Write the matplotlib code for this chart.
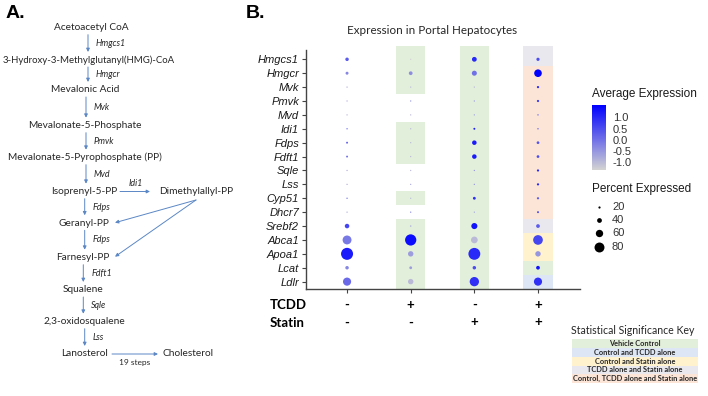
import numpy as np
import matplotlib.pyplot as plt
from matplotlib.colors import LinearSegmentedColormap, Normalize
from matplotlib.patches import Rectangle

# ---- data ----
genes = ['Hmgcs1', 'Hmgcr', 'Mvk', 'Pmvk', 'Mvd', 'Idi1', 'Fdps', 'Fdft1', 'Sqle',
         'Lss', 'Cyp51', 'Dhcr7', 'Srebf2', 'Abca1', 'Apoa1', 'Lcat', 'Ldlr']
tcdd = ['-', '+', '-', '+']
statin = ['-', '-', '+', '+']

# percent expressed; columns: vehicle, TCDD, statin, TCDD + statin
pct = np.array([
    [30, 8, 40, 28],
    [26, 32, 42, 62],
    [8, 6, 6, 20],
    [8, 10, 10, 20],
    [6, 5, 10, 12],
    [12, 6, 18, 10],
    [18, 6, 38, 24],
    [18, 8, 38, 24],
    [8, 6, 12, 20],
    [6, 8, 12, 20],
    [14, 6, 25, 20],
    [6, 12, 10, 18],
    [38, 15, 50, 32],
    [72, 90, 55, 78],
    [96, 45, 95, 45],
    [30, 25, 30, 32],
    [66, 45, 75, 66],
])

# scaled average expression
avg = np.array([
    [0.3, -1.3, 1.0, 0.5],
    [-0.3, -0.4, 0.0, 1.55],
    [-0.8, -1.0, -1.0, 1.0],
    [-0.8, -0.5, -0.6, 0.8],
    [-0.9, -1.0, -0.7, 0.3],
    [0.2, -1.0, 1.2, 0.5],
    [0.2, -1.0, 1.2, 0.4],
    [0.0, -1.0, 1.2, 0.5],
    [-0.8, -1.0, -0.5, 1.0],
    [-0.8, -0.8, -0.5, 1.0],
    [-0.2, -1.0, 0.9, 0.3],
    [-0.8, -0.3, -0.7, 0.6],
    [0.6, -0.9, 1.3, 0.3],
    [-0.1, 1.4, -1.0, 0.6],
    [1.2, -0.6, 1.0, -0.5],
    [-0.3, -0.6, 0.5, 1.3],
    [0.1, -1.0, 0.9, 0.9],
])

# significance category per cell (0 = none, 1..5 = key entries)
sig = np.array([
    [0, 1, 1, 4],
    [0, 1, 1, 5],
    [0, 1, 1, 5],
    [0, 0, 1, 5],
    [0, 0, 1, 5],
    [0, 1, 1, 5],
    [0, 1, 1, 5],
    [0, 1, 1, 5],
    [0, 0, 1, 5],
    [0, 0, 1, 5],
    [0, 1, 1, 5],
    [0, 0, 1, 5],
    [0, 1, 1, 4],
    [0, 1, 1, 3],
    [0, 1, 1, 3],
    [0, 1, 1, 1],
    [0, 1, 1, 2],
])

key_labels = ['Vehicle Control', 'Control and TCDD alone', 'Control and Statin alone',
              'TCDD alone and Statin alone', 'Control, TCDD alone and Statin alone']
key_colors = ['#E2EFDA', '#DCE6F4', '#FFF2CC', '#E9E8EE', '#FCE4D6']

size_breaks = [20, 40, 60, 80]

metabolites = ['Acetoacetyl CoA', '3-Hydroxy-3-Methylglutanyl(HMG)-CoA', 'Mevalonic Acid',
               'Mevalonate-5-Phosphate', 'Mevalonate-5-Pyrophosphate (PP)', 'Isoprenyl-5-PP',
               'Geranyl-PP', 'Farnesyl-PP', 'Squalene', '2,3-oxidosqualene', 'Lanosterol']
enzymes = ['Hmgcs1', 'Hmgcr', 'Mvk', 'Pmvk', 'Mvd', 'Fdps', 'Fdps', 'Fdft1', 'Sqle', 'Lss']

# ---- layout ----
W, H = 708, 396
met_x = [91, 88.5, 85, 85, 85, 84, 84, 83, 83, 84, 84]
met_y = [27.7, 60, 90, 125.7, 157.7, 191.7, 223.3, 257.7, 290, 321.7, 354]
arr_x = [88, 88, 86, 86, 86, 84.7, 84.7, 83.3, 83.3, 84.7]
calibri = ['Lato', 'DejaVu Sans']
arial = ['Liberation Sans', 'DejaVu Sans']
acol = '#5B87C5'
tcol = '#262626'


def dot_size(p):
    d_px = 12 * (np.asarray(p) - 3) / (96 - 3)
    return (np.clip(d_px, 1.3, None) * 0.72) ** 2


cmap = LinearSegmentedColormap.from_list('seurat', ['#D3D3D3', '#0000FF'])
norm = Normalize(vmin=-1.34, vmax=1.55)

fig = plt.figure(figsize=(7.08, 3.96), dpi=100)

# overlay in pixel coordinates for the annotations
ov = fig.add_axes([0, 0, 1, 1], zorder=-1)
ov.set_xlim(0, W)
ov.set_ylim(H, 0)
ov.axis('off')

def arrow(x1, y1, x2, y2):
    ov.annotate('', xy=(x2, y2), xytext=(x1, y1),
                arrowprops=dict(arrowstyle='-|>', color=acol, lw=0.7,
                                mutation_scale=5, shrinkA=0, shrinkB=0))

ov.text(6, 14, 'A.', fontsize=14, fontweight='bold', family=arial, va='center')
ov.text(246, 14, 'B.', fontsize=14, fontweight='bold', family=arial, va='center')

for name, x, y in zip(metabolites, met_x, met_y):
    fs = 6.9 if len(name) > 32 else 7.3
    ov.text(x, y, name, fontsize=fs, family=calibri, ha='center', va='center', color=tcol)
for i, enz in enumerate(enzymes):
    y1 = met_y[i] + 7
    y2 = met_y[i + 1] - 8
    arrow(arr_x[i], y1, arr_x[i], y2)
    ov.text(arr_x[i] + 8, (y1 + y2) / 2, enz, fontsize=6.4, style='italic',
            family=calibri, va='center', color=tcol)

ov.text(195.8, 191.7, 'Dimethylallyl-PP', fontsize=7.3, family=calibri, ha='center',
        va='center', color=tcol)
arrow(120, 191.5, 150, 191.5)
ov.text(136, 183, 'Idi1', fontsize=6.4, style='italic', family=calibri, ha='center',
        va='center', color=tcol)
arrow(196, 200, 115, 222.7)
arrow(196, 200, 115, 256.7)
ov.text(188, 354, 'Cholesterol', fontsize=7.3, family=calibri, ha='center', va='center',
        color=tcol)
arrow(112, 354, 158, 354)
ov.text(134.3, 363, '19 steps', fontsize=6, family=calibri, ha='center', va='center',
        color=tcol)

# ---- dot plot ----
ax = fig.add_axes([306 / W, 1 - 289 / H, 274 / W, 239 / H])
ax.set_xlim(-0.645, 3.66)
ax.set_ylim(16.53, -0.67)
ax.patch.set_alpha(0)

bw = 0.46
for r in range(len(genes)):
    for c in range(4):
        k = sig[r, c]
        if k == 0:
            continue
        top = r - 0.5 - (0.49 if r == 0 else 0)
        ax.add_patch(Rectangle((c - bw / 2, top), bw, (r + 0.5) - top,
                               facecolor=key_colors[k - 1], edgecolor='none',
                               zorder=0, clip_on=False))

cols, rows = np.meshgrid(np.arange(4), np.arange(len(genes)))
sc = ax.scatter(cols.ravel(), rows.ravel(), s=dot_size(pct.ravel()),
                c=avg.ravel(), cmap=cmap, norm=norm, linewidths=0, zorder=2)

ax.set_yticks(range(len(genes)))
ax.set_yticklabels(genes, fontsize=8, style='italic', family=arial, color='#1a1a1a')
ax.set_xticks(range(4))
ax.set_xticklabels([])
for s in ['top', 'right']:
    ax.spines[s].set_visible(False)
for s in ['left', 'bottom']:
    ax.spines[s].set_color('#444444')
    ax.spines[s].set_linewidth(1.0)
ax.tick_params(length=3, width=0.8, color='#444444', pad=2)

fig.text(431.7 / W, 1 - 30 / H, 'Expression in Portal Hepatocytes', fontsize=8.4,
         family=calibri, ha='center', va='center', color=tcol)

# treatment rows under the axis
ov.text(270, 304.7, 'TCDD', fontsize=9.5, fontweight='bold', family=calibri, va='center')
ov.text(270, 322.7, 'Statin', fontsize=9.5, fontweight='bold', family=calibri, va='center')
tr = ax.get_xaxis_transform()
for c in range(4):
    ax.text(c, -0.065, tcdd[c], transform=tr, fontsize=9.5, fontweight='bold',
            family=calibri, ha='center', va='center', clip_on=False)
    ax.text(c, -0.14, statin[c], transform=tr, fontsize=9.5, fontweight='bold',
            family=calibri, ha='center', va='center', clip_on=False)

# colour legend
cax = fig.add_axes([592 / W, 1 - 170 / H, 13.7 / W, 65 / H])
cb = fig.colorbar(sc, cax=cax)
cb.set_ticks([-1.0, -0.5, 0.0, 0.5, 1.0])
cb.set_ticklabels(['-1.0', '-0.5', '0.0', '0.5', '1.0'])
cb.outline.set_visible(False)
cax.tick_params(length=0, pad=5, labelsize=8, labelcolor='#333333')
for t in cax.get_yticklabels():
    t.set_family(arial)
ov.text(592, 94, 'Average Expression', fontsize=8.5, family=arial, va='center', color='#1a1a1a')

# size legend
ov.text(592, 189, 'Percent Expressed', fontsize=8.5, family=arial, va='center', color='#1a1a1a')
for i, b in enumerate(size_breaks):
    y = 207 + i * 13.2
    ov.scatter(599, y, s=dot_size(b), color='black', linewidths=0)
    ov.text(612, y, str(b), fontsize=8, family=arial, va='center', color='#333333')

# significance key
ov.text(633, 330.7, 'Statistical Significance Key', fontsize=7.6, family=calibri,
        ha='center', va='center', color=tcol)
for i, (lab, col) in enumerate(zip(key_labels, key_colors)):
    yc = 343.7 + i * 8.75
    ov.add_patch(Rectangle((571.7, yc - 4.375), 126.3, 8.75, facecolor=col, edgecolor='none'))
    ov.text(634.8, yc, lab, fontsize=5.3, fontweight='bold', family=calibri,
            ha='center', va='center', color=tcol)

fig.savefig('out.png', dpi=100)
